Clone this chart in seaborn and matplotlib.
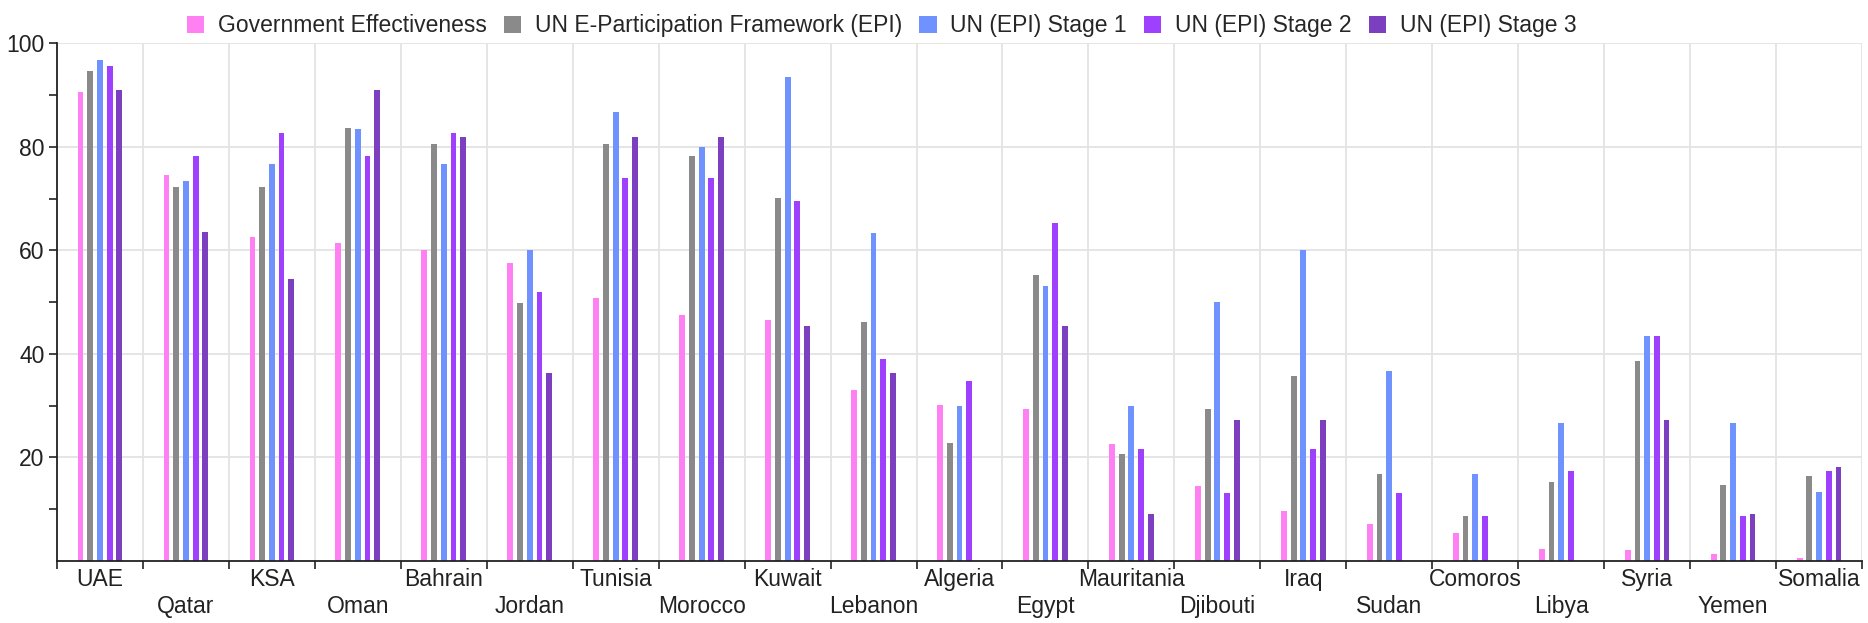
import numpy as np
import pandas as pd
import matplotlib
matplotlib.use('Agg')
import matplotlib.pyplot as plt
from matplotlib.ticker import FixedLocator
import seaborn as sns

##################################################################
countries = ['UAE', 'Qatar', 'KSA', 'Oman', 'Bahrain', 'Jordan', 'Tunisia', 'Morocco',
             'Kuwait', 'Lebanon', 'Algeria', 'Egypt', 'Mauritania', 'Djibouti', 'Iraq',
             'Sudan', 'Comoros', 'Libya', 'Syria', 'Yemen', 'Somalia']
series = ['Government Effectiveness', 'UN E-Participation Framework (EPI)',
          'UN (EPI) Stage 1', 'UN (EPI) Stage 2', 'UN (EPI) Stage 3']

gov_eff = [90.5, 74.6, 62.5, 61.5, 60.0, 57.5, 50.8, 47.5, 46.6, 33.1, 30.2,
           29.4, 22.6, 14.4, 9.7, 7.2, 5.4, 2.4, 2.1, 1.4, 0.6]
epi = [94.6, 72.3, 72.3, 83.7, 80.5, 49.9, 80.5, 78.3, 70.1, 46.2, 22.7,
       55.2, 20.6, 29.4, 35.8, 16.9, 8.7, 15.3, 38.6, 14.6, 16.4]
stage1 = [96.8, 73.4, 76.7, 83.4, 76.7, 60.0, 86.8, 80.0, 93.4, 63.3, 30.0,
          53.2, 30.0, 50.0, 60.0, 36.7, 16.8, 26.7, 43.4, 26.7, 13.4]
stage2 = [95.7, 78.3, 82.7, 78.3, 82.7, 52.0, 73.9, 73.9, 69.5, 39.0, 34.7,
          65.2, 21.7, 13.1, 21.7, 13.1, 8.7, 17.4, 43.5, 8.7, 17.4]
stage3 = [91.0, 63.6, 54.5, 91.0, 81.9, 36.3, 81.9, 81.9, 45.4, 36.3, None,
          45.4, 9.0, 27.2, 27.2, None, None, None, 27.2, 9.0, 18.2]

colors = ['#ff80f2', '#8a8a8a', '#7092ff', '#a040ff', '#7b3fbf']
##################################################################
df = pd.DataFrame({'Country': countries * 5,
                   'Series': np.repeat(series, len(countries)),
                   'Value': pd.to_numeric(pd.Series(gov_eff + epi + stage1 + stage2 + stage3))})
##################################################################
sns.set_style('white')
plt.rcParams['font.family'] = ['Liberation Sans', 'DejaVu Sans']
fz = 16.5

fig = plt.figure(figsize=[18.68, 6.23], dpi=100)
ax = fig.add_axes([0.0305, 0.0995, 0.9663, 0.831])

sns.barplot(data=df, x='Country', y='Value', hue='Series', order=countries, hue_order=series,
            palette=colors, width=0.565, gap=0.40, linewidth=0, saturation=1, ax=ax, errorbar=None)

handles, labels = ax.get_legend_handles_labels()
ax.get_legend().remove()
fig.legend(handles, labels, ncol=5, loc='upper center', bbox_to_anchor=(0.472, 1.01), frameon=False,
           fontsize=fz, handlelength=0.75, handleheight=0.75, columnspacing=0.75, handletextpad=0.6)

n = len(countries)
ax.set_xlim(-0.5, n - 0.5)
ax.set_ylim(0, 100)
ax.set_xticks(np.arange(n))
ax.set_xticklabels([c if i % 2 == 0 else '\n' + c for i, c in enumerate(countries)], fontsize=fz)
ax.xaxis.set_minor_locator(FixedLocator(np.arange(n + 1) - 0.5))
ax.set_yticks([20, 40, 60, 80, 100])
ax.set_yticklabels(['20', '40', '60', '80', '100'], fontsize=fz)
ax.yaxis.set_minor_locator(FixedLocator([10, 30, 50, 70, 90]))
ax.tick_params(axis='x', which='major', length=0, pad=5, colors='#222222')
ax.tick_params(axis='x', which='minor', length=6, width=1.2, color='#222222', bottom=True)
ax.tick_params(axis='y', which='both', length=6, width=1.2, color='#222222', left=True, labelcolor='#222222', pad=3)
ax.set_xlabel('')
ax.set_ylabel('')

ax.grid(False)
ax.grid(True, axis='x', which='minor', color='#e3e3e3', lw=1.3)
ax.grid(True, axis='y', which='major', color='#e3e3e3', lw=1.3)
ax.set_axisbelow(True)
for s in ['top', 'right']:
    ax.spines[s].set_visible(False)
for s in ['left', 'bottom']:
    ax.spines[s].set_color('#222222')
    ax.spines[s].set_linewidth(1.3)

plt.savefig('out.png', dpi=100)
